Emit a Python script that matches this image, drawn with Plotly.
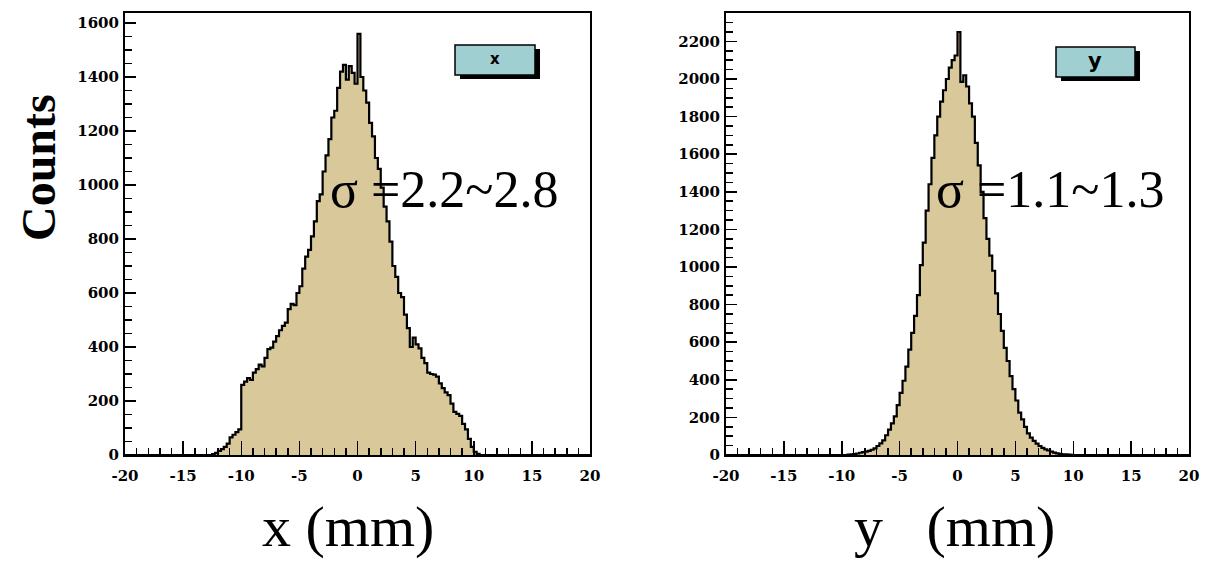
import numpy as np
import plotly.graph_objects as go

W, H = 1207, 561
BIN = 0.25
X_MIN, X_MAX = -20.0, 20.0

# ---- data: left histogram (x), first bin left edge and counts per 0.25 mm bin
x_start = -12.5
x_counts = [3, 8, 15, 22, 30, 42, 65, 75, 85, 95,
            260, 272, 285, 278, 305, 318, 335, 328, 360, 392,
            398, 420, 440, 462, 478, 490, 540, 560, 555, 600,
            625, 690, 735, 760, 810, 865, 940, 965, 1050, 1110,
            1170, 1250, 1275, 1360, 1420, 1445, 1390, 1440, 1415, 1375,
            1560, 1400, 1350, 1305, 1230, 1180, 1100, 1060, 990, 920,
            865, 790, 700, 660, 600, 585, 520, 470, 400, 435,
            410, 395, 360, 340, 305, 300, 298, 290, 265, 248,
            232, 222, 190, 160, 152, 145, 115, 95, 60, 30,
            12, 4]

# ---- data: right histogram (y)
y_start = -9.5
y_counts = [2, 3, 5, 8, 12, 15, 18, 22, 28, 35,
            48, 62, 78, 105, 135, 168, 205, 265, 330, 395,
            470, 560, 650, 740, 850, 1010, 1130, 1300, 1440, 1580,
            1700, 1800, 1880, 1940, 2000, 2060, 2100, 2125, 2250, 1985,
            2020, 1960, 1870, 1800, 1660, 1540, 1400, 1260, 1150, 1060,
            980, 860, 750, 660, 570, 500, 420, 350, 290, 225,
            190, 150, 115, 92, 75, 60, 48, 38, 30, 24,
            18, 13, 9, 6, 4, 3, 2, 1]

x_ticks = [-20, -15, -10, -5, 0, 5, 10, 15, 20]
left_yticks = [0, 200, 400, 600, 800, 1000, 1200, 1400, 1600]
right_yticks = [0, 200, 400, 600, 800, 1000, 1200, 1400, 1600, 1800, 2000, 2200]

FILL = "#d8c89a"
BOX = "#9fcfd1"


def step_arrays(start, counts):
    n = int(round((X_MAX - X_MIN) / BIN))
    full = np.zeros(n)
    i0 = int(round((start - X_MIN) / BIN))
    full[i0:i0 + len(counts)] = counts
    edges = X_MIN + BIN * np.arange(n + 1)
    ys = np.append(full, full[-1])
    return edges, ys


def px_x(p):
    return p / W


def px_y(p):
    return 1 - p / H


fig = go.Figure()

ex, cx = step_arrays(x_start, x_counts)
ey, cy = step_arrays(y_start, y_counts)

fig.add_trace(go.Scatter(x=ex, y=cx, mode="lines", line=dict(shape="hv", color="black", width=2.2),
                         fill="tozeroy", fillcolor=FILL, xaxis="x", yaxis="y", showlegend=False,
                         hoverinfo="skip"))
fig.add_trace(go.Scatter(x=ey, y=cy, mode="lines", line=dict(shape="hv", color="black", width=2.2),
                         fill="tozeroy", fillcolor=FILL, xaxis="x2", yaxis="y2", showlegend=False,
                         hoverinfo="skip"))

tickfont = dict(family="DejaVu Serif", size=15, color="black", weight="bold")

xcommon = dict(range=[X_MIN, X_MAX], tickvals=x_ticks, ticktext=[str(v) for v in x_ticks],
               ticks="inside", ticklen=14, tickwidth=1.5, tickcolor="black",
               minor=dict(dtick=1, ticks="inside", ticklen=7, tickwidth=1.5, tickcolor="black"),
               showline=True, linecolor="black", linewidth=2, mirror=True,
               showgrid=False, zeroline=False, tickfont=tickfont, ticklabelstandoff=6,
               ticklabeloverflow="allow", automargin=False, fixedrange=True)
ycommon = dict(ticks="inside", ticklen=11, tickwidth=1.5, tickcolor="black",
               minor=dict(dtick=50, ticks="inside", ticklen=7, tickwidth=1.5, tickcolor="black"),
               showline=True, linecolor="black", linewidth=2, mirror=True,
               showgrid=False, zeroline=False, tickfont=tickfont, ticklabelstandoff=1,
               ticklabeloverflow="allow", automargin=False, fixedrange=True)

dom_y = [px_y(455), px_y(13)]

fig.update_layout(
    width=W, height=H,
    margin=dict(l=0, r=0, t=0, b=0),
    paper_bgcolor="white", plot_bgcolor="white",
    template="none",
    xaxis=dict(domain=[px_x(125), px_x(590)], anchor="y", **xcommon),
    yaxis=dict(domain=dom_y, anchor="x", range=[0, 1637], tickvals=left_yticks, **ycommon),
    xaxis2=dict(domain=[px_x(726), px_x(1189)], anchor="y2", **xcommon),
    yaxis2=dict(domain=dom_y, anchor="x2", range=[0, 2351], tickvals=right_yticks, **ycommon),
)

serif = "Liberation Serif"
ann = [
    dict(text="Counts", x=px_x(38), y=px_y(168), textangle=-90,
         font=dict(family=serif, size=48, color="black", weight="bold")),
    dict(text="x (mm)", x=px_x(348), y=0, yanchor="bottom",
         font=dict(family=serif, size=58, color="black")),
    dict(text="y\u00a0\u00a0\u00a0(mm)", x=px_x(954), y=0, yanchor="bottom",
         font=dict(family=serif, size=58, color="black")),
    dict(text="\u03c3 =2.2~2.8", x=px_x(444), y=px_y(190),
         font=dict(family=serif, size=52, color="black")),
    dict(text="\u03c3 =1.1~1.3", x=px_x(1050), y=px_y(190),
         font=dict(family=serif, size=52, color="black")),
    dict(text="x", x=px_x(495), y=px_y(59),
         font=dict(family="DejaVu Sans", size=15, color="black", weight="bold")),
    dict(text="y", x=px_x(1095), y=px_y(61),
         font=dict(family="DejaVu Sans", size=21, color="black", weight="bold")),
]
for a in ann:
    a.setdefault("yanchor", "middle")
    a.update(xref="paper", yref="paper", showarrow=False, xanchor="center")
fig.update_layout(annotations=ann)

shapes = []
for (x0, y0, x1, y1) in [(455, 45, 535, 75), (1056, 47, 1135, 77)]:
    shapes.append(dict(type="rect", xref="paper", yref="paper",
                       x0=px_x(x0 + 5), x1=px_x(x1 + 5), y0=px_y(y1 + 4), y1=px_y(y0 + 4),
                       fillcolor="black", line=dict(width=0), layer="above"))
    shapes.append(dict(type="rect", xref="paper", yref="paper",
                       x0=px_x(x0), x1=px_x(x1), y0=px_y(y1), y1=px_y(y0),
                       fillcolor=BOX, line=dict(color="black", width=1.5), layer="above"))
fig.update_layout(shapes=shapes)

fig.write_html(
    "out.html",
    config={"displayModeBar": False, "staticPlot": True},
    post_script="document.body.style.margin='0';document.body.style.overflow='hidden';",
)
